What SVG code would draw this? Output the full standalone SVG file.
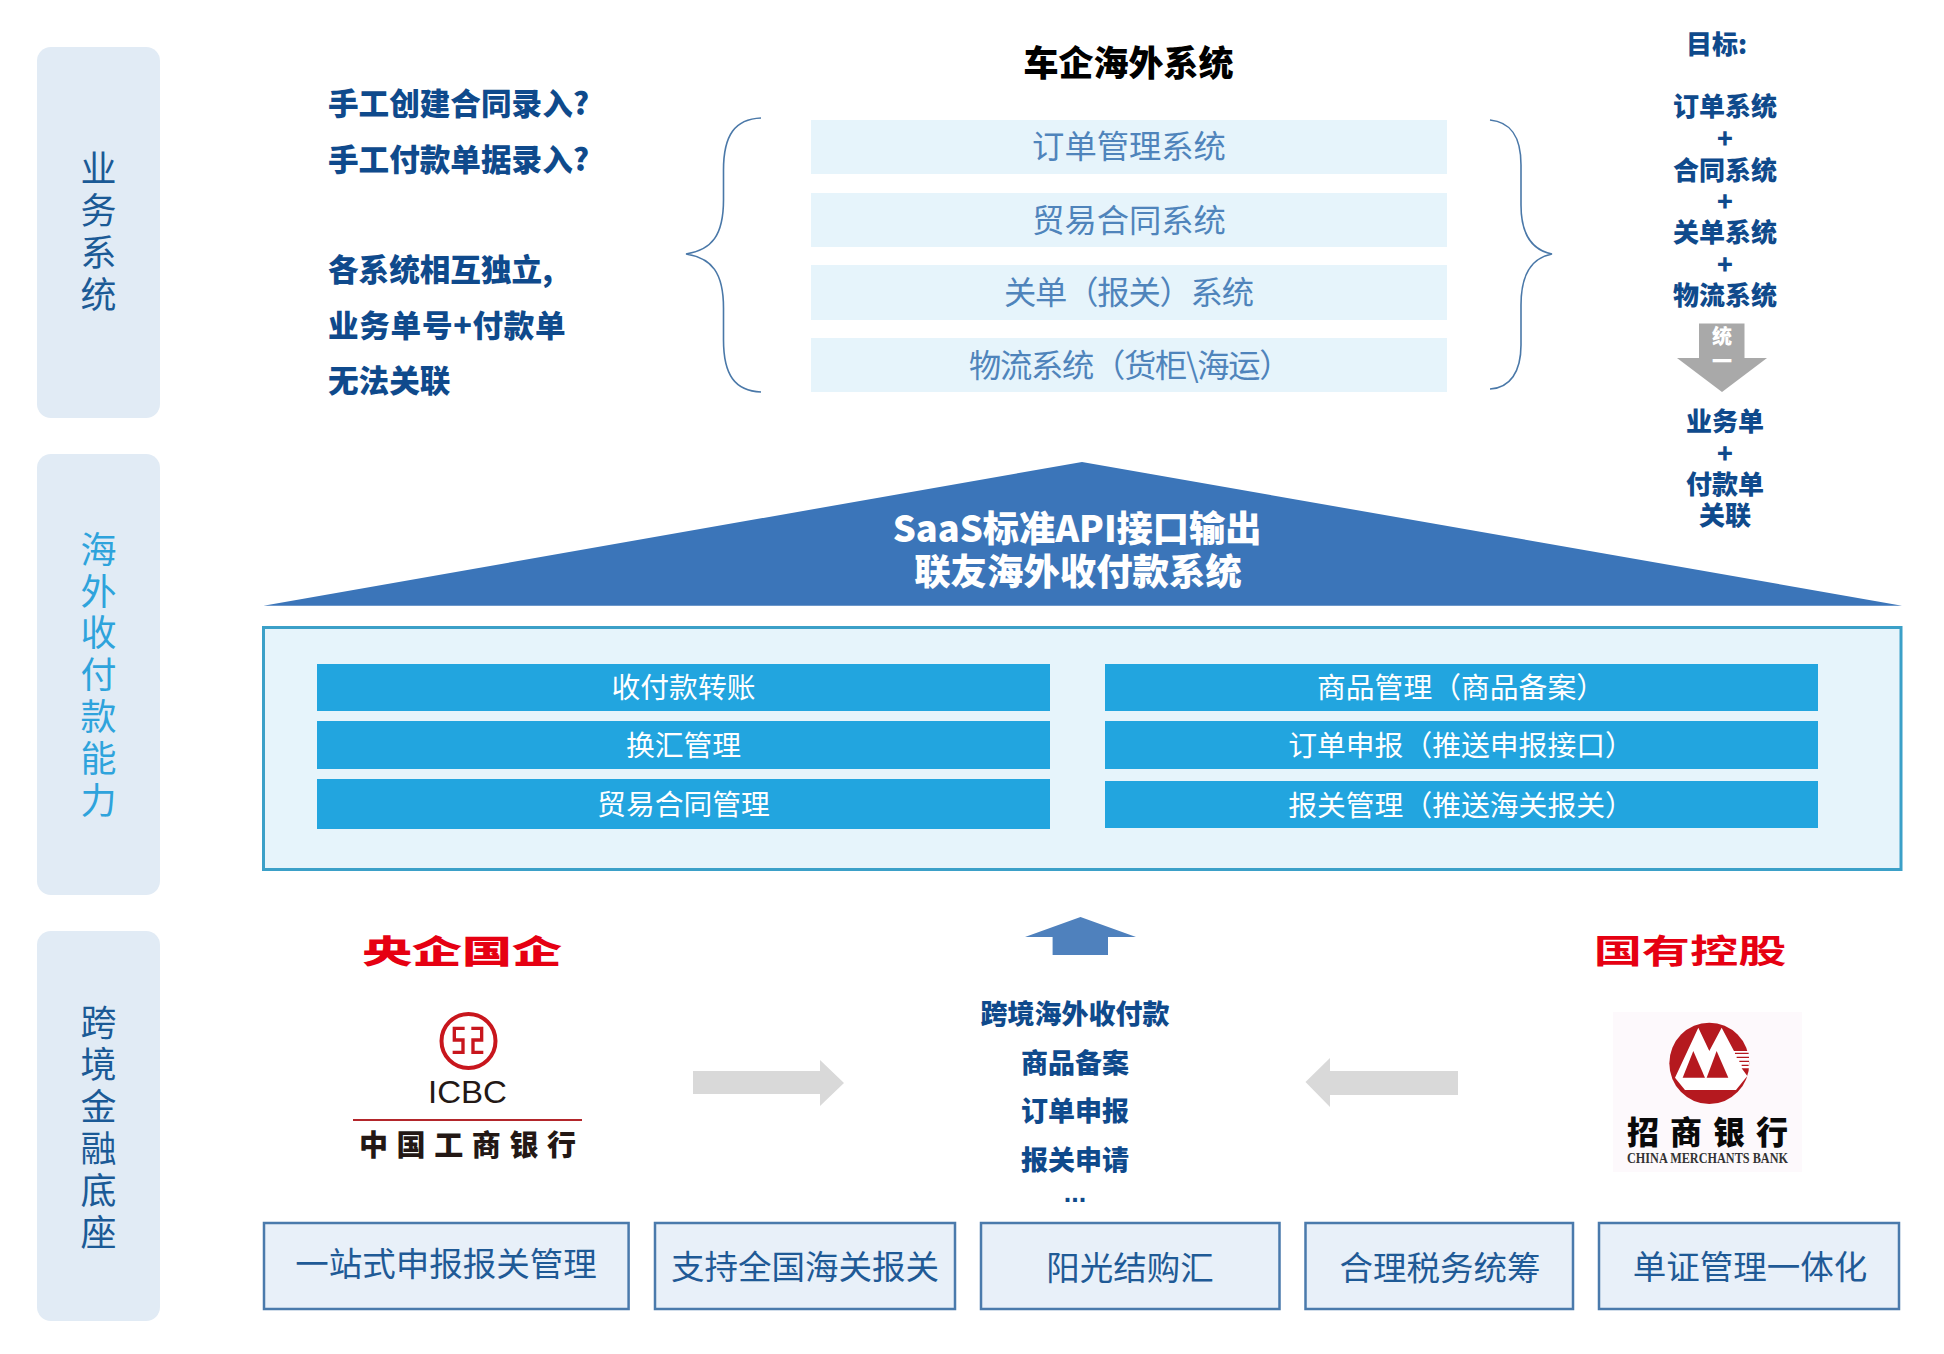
<svg xmlns="http://www.w3.org/2000/svg" width="1944" height="1354" viewBox="0 0 1944 1354">
<style>
text{font-family:"Noto Sans CJK SC","Noto Sans",sans-serif;text-anchor:middle}
.panel{fill:#e1ebf5}
.side{font-size:36px;fill:#1b5a96}
.bk{font-size:30.6px;font-weight:900;fill:#0f4a8c;text-anchor:start}
.goal{font-size:26px;font-weight:900;fill:#0f4a8c}
.sysrow{fill:#e6f4fb}
.systx{font-size:32.3px;fill:#4f84bb}
.bar{fill:#22a5df}
.bartx{font-size:28.8px;fill:#fff}
.cap{font-size:27px;font-weight:900;fill:#0f4a8c}
.foot{fill:#e8f0f9;stroke:#4a7aac;stroke-width:2.5}
.foottx{font-size:33.5px;fill:#1f5a96}
.red{fill:#e60012}
.brace{fill:none;stroke:#4a78a8;stroke-width:1.6}
.gray{fill:#d9d9d9}
</style>
<rect width="1944" height="1354" fill="#fff"/>

<g id="panel-business">
<rect class="panel" x="37" y="47" width="123" height="371" rx="14"/>
<text class="side"><tspan x="98.5" y="181.7">业</tspan><tspan x="98.5" dy="42">务</tspan><tspan x="98.5" dy="42">系</tspan><tspan x="98.5" dy="42">统</tspan></text>
</g>
<g id="panel-capability">
<rect class="panel" x="37" y="454" width="123" height="441" rx="14"/>
<text class="side" style="fill:#2ea3dc"><tspan x="98.5" y="562.7">海</tspan><tspan x="98.5" dy="41.8">外</tspan><tspan x="98.5" dy="41.8">收</tspan><tspan x="98.5" dy="41.8">付</tspan><tspan x="98.5" dy="41.8">款</tspan><tspan x="98.5" dy="41.8">能</tspan><tspan x="98.5" dy="41.8">力</tspan></text>
</g>
<g id="panel-finance">
<rect class="panel" x="37" y="931" width="123" height="390" rx="14"/>
<text class="side"><tspan x="98.5" y="1035.7">跨</tspan><tspan x="98.5" dy="42">境</tspan><tspan x="98.5" dy="42">金</tspan><tspan x="98.5" dy="42">融</tspan><tspan x="98.5" dy="42">底</tspan><tspan x="98.5" dy="42">座</tspan></text>
</g>

<g id="questions">
<text class="bk" x="328" y="115.4">手工创建合同录入?</text>
<text class="bk" x="328" y="171.4">手工付款单据录入?</text>
<text class="bk" x="328" y="281.4">各系统相互独立,</text>
<text class="bk" x="328" y="337.4" style="letter-spacing:.7px">业务单号+付款单</text>
<text class="bk" x="328" y="392.4">无法关联</text>
</g>

<g id="title"><text x="1128.5" y="75.5" style="font-size:35px;font-weight:900;fill:#000">车企海外系统</text></g>

<g id="sys-order"><rect class="sysrow" x="811" y="120" width="636" height="54"/><text class="systx" x="1129" y="158">订单管理系统</text></g>
<g id="sys-contract"><rect class="sysrow" x="811" y="193" width="636" height="54"/><text class="systx" x="1129" y="232">贸易合同系统</text></g>
<g id="sys-customs"><rect class="sysrow" x="811" y="265" width="636" height="55"/><text class="systx" x="1004" y="304" style="text-anchor:start;letter-spacing:-1.2px">关单（报关）系统</text></g>
<g id="sys-logistics"><rect class="sysrow" x="811" y="338" width="636" height="54"/><text class="systx" x="969" y="377" style="text-anchor:start;letter-spacing:-1.3px">物流系统（货柜\海运）</text></g>

<g id="goals">
<text class="goal" x="1686" y="54" style="text-anchor:start">目标:</text>
<text class="goal" x="1725" y="116">订单系统</text>
<text class="goal" x="1725" y="148">+</text>
<text class="goal" x="1725" y="180">合同系统</text>
<text class="goal" x="1725" y="211">+</text>
<text class="goal" x="1725" y="242">关单系统</text>
<text class="goal" x="1725" y="274">+</text>
<text class="goal" x="1725" y="305">物流系统</text>
<text class="goal" x="1725" y="431">业务单</text>
<text class="goal" x="1725" y="463">+</text>
<text class="goal" x="1725" y="494">付款单</text>
<text class="goal" x="1725" y="525">关联</text>
</g>

<g id="connectors">
<path class="brace" d="M761 118C735 119 723.5 135 723.5 170V200C723.5 235 712 250 686 254C712 258 723.5 273 723.5 308V340C723.5 375 735 391 761 392"/>
<path class="brace" d="M1490 120C1510 122 1521 135 1521 165V205C1521 235 1532 250 1552 254C1532 258 1521 273 1521 305V345C1521 372 1510 388 1490 389"/>
<polygon fill="#a9a9a9" points="1699,323.5 1744.5,323.5 1744.5,358 1767,358 1722,392 1677,358 1699,358"/>
<polygon fill="#4f81bd" points="1080.5,917 1136,937 1108,937 1108,955 1052.6,955 1052.6,937 1025,937"/>
<polygon class="gray" points="693,1071 820,1071 820,1060 844,1083 820,1106 820,1094 693,1094"/>
<polygon class="gray" points="1458,1071 1330,1071 1330,1058 1305.5,1082 1330,1107 1330,1095 1458,1095"/>
<text x="1722" y="344" style="font-size:20px;font-weight:900;fill:#fff">统</text>
<text x="1722" y="369" style="font-size:20px;font-weight:900;fill:#fff">一</text>
</g>

<g id="api-roof">
<polygon fill="#3b75b9" points="1082,462 1902,605.7 263.5,605.7"/>
<text x="1077" y="542" style="font-size:36.2px;font-weight:900;fill:#fff">SaaS标准API接口输出</text>
<text x="1078" y="585" style="font-size:36.4px;font-weight:900;fill:#fff">联友海外收付款系统</text>
</g>

<g id="capability-box">
<rect x="263.5" y="627.5" width="1637.5" height="242" fill="#e6f4fb" stroke="#3ba0c8" stroke-width="3"/>
</g>
<g id="cap-transfer"><rect class="bar" x="317" y="664" width="733" height="47"/><text class="bartx" x="683.5" y="698">收付款转账</text></g>
<g id="cap-fx"><rect class="bar" x="317" y="721" width="733" height="48"/><text class="bartx" x="683.5" y="756">换汇管理</text></g>
<g id="cap-trade"><rect class="bar" x="317" y="779" width="733" height="50"/><text class="bartx" x="683.5" y="815">贸易合同管理</text></g>
<g id="cap-goods"><rect class="bar" x="1105" y="664" width="713" height="47"/><text class="bartx" x="1461" y="698">商品管理（商品备案）</text></g>
<g id="cap-order"><rect class="bar" x="1105" y="721" width="713" height="48"/><text class="bartx" x="1461" y="756">订单申报（推送申报接口）</text></g>
<g id="cap-customs"><rect class="bar" x="1105" y="781" width="713" height="47"/><text class="bartx" x="1461" y="816">报关管理（推送海关报关）</text></g>

<g id="label-soe"><text class="red" style="font-size:32px;font-weight:900" transform="translate(462,963) scale(1.56,1)">央企国企</text></g>
<g id="label-state"><text class="red" style="font-size:33px;font-weight:700" transform="translate(1690,963) scale(1.46,1)">国有控股</text></g>

<g id="icbc">
<circle cx="468.5" cy="1041" r="27" fill="none" stroke="#c8161d" stroke-width="4"/>
<g transform="translate(340,1000) scale(.3333)"><path d="M374 85H343V120H369V157H338M394 85H425V120H399V157H430" fill="none" stroke="#c8161d" stroke-width="10"/></g>
<text x="467.5" y="1103" textLength="79" lengthAdjust="spacingAndGlyphs" style="font-family:'Liberation Sans',sans-serif;font-size:32px;fill:#231815">ICBC</text>
<line x1="353" y1="1120" x2="582" y2="1120" stroke="#b3262b" stroke-width="1.8"/>
<text x="359" y="1156" style="font-size:29px;font-weight:900;fill:#231815;letter-spacing:8.6px;text-anchor:start">中国工商银行</text>
</g>

<g id="center-list">
<text class="cap" x="1075" y="1024">跨境海外收付款</text>
<text class="cap" x="1075" y="1073">商品备案</text>
<text class="cap" x="1075" y="1121">订单申报</text>
<text class="cap" x="1075" y="1170">报关申请</text>
<text class="cap" x="1075" y="1202" style="font-family:'Liberation Sans',sans-serif;font-weight:700">...</text>
</g>

<g id="cmb">
<rect x="1613" y="1012" width="189" height="160" fill="#fdf9fc"/>
<g transform="translate(1600,1000) scale(.3333)">
<ellipse cx="328" cy="190" rx="120" ry="122" fill="#b5191f"/>
<polygon fill="#fff" points="225,233 295,83 328,153 365,83 402,153 448,153 448,205 425,205 442,228 408,270 255,270"/>
<polygon fill="#b5191f" points="248,233 280,153 315,233"/>
<polygon fill="#b5191f" points="320,233 350,153 385,233"/>
<path d="M405 160H446M410 172H447M418 184H447M425 196H446" stroke="#b5191f" stroke-width="4"/>
</g>
<text x="1627" y="1144" style="font-size:32px;font-weight:900;fill:#0a0a0a;letter-spacing:11px;text-anchor:start">招商银行</text>
<text x="1707.5" y="1163" textLength="161" lengthAdjust="spacingAndGlyphs" style="font-family:'Liberation Serif',serif;font-weight:700;font-size:14px;fill:#333">CHINA MERCHANTS BANK</text>
</g>

<g id="foot-declare"><rect class="foot" x="264" y="1223" width="364.6" height="86"/><text class="foottx" x="446" y="1276">一站式申报报关管理</text></g>
<g id="foot-nation"><rect class="foot" x="655" y="1223" width="300" height="86"/><text class="foottx" x="805" y="1279">支持全国海关报关</text></g>
<g id="foot-fx"><rect class="foot" x="981" y="1223" width="298.5" height="86"/><text class="foottx" x="1130" y="1280">阳光结购汇</text></g>
<g id="foot-tax"><rect class="foot" x="1305.5" y="1223" width="267.5" height="86"/><text class="foottx" x="1440" y="1280">合理税务统筹</text></g>
<g id="foot-doc"><rect class="foot" x="1599" y="1223" width="300" height="86"/><text class="foottx" x="1750" y="1279">单证管理一体化</text></g>
</svg>
